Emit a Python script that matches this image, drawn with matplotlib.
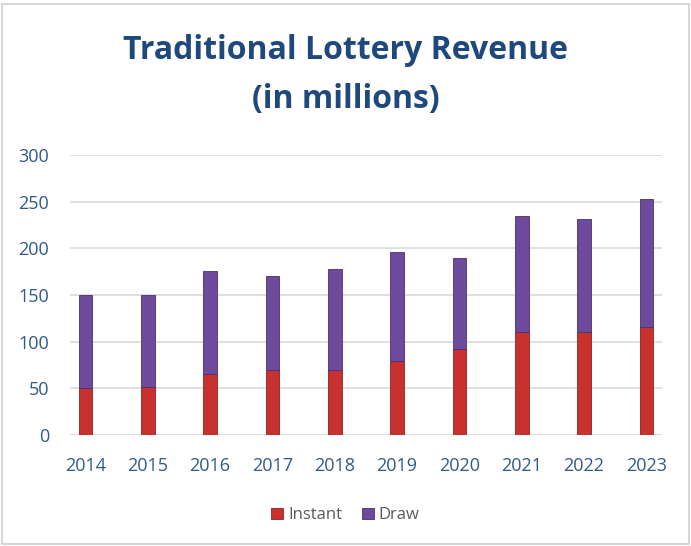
import numpy as np
import matplotlib.pyplot as plt
from matplotlib.patches import Rectangle

years = ["2014", "2015", "2016", "2017", "2018", "2019", "2020", "2021", "2022", "2023"]
instant = [50, 52, 65, 70, 70, 79, 92, 110, 110, 116]
draw = [100, 98, 111, 100, 108, 117, 98, 125, 121, 137]

blue = "#1F497D"
tick_blue = "#2F5A8C"
fig = plt.figure(figsize=(6.91, 5.46), dpi=100)
ax = fig.add_axes([0.101, 0.203, 0.857, 0.513])

x = np.arange(len(years))
w = 0.22
ax.bar(x, instant, w, color="#C9312F", edgecolor="#8E2222", linewidth=0.6, label="Instant", zorder=3)
ax.bar(x, draw, w, bottom=instant, color="#6E4A9C", edgecolor="#4A306E", linewidth=0.6, label="Draw", zorder=3)

ax.set_xlim(-0.25, 9.25)
ax.set_ylim(0, 300)
ax.set_yticks(np.arange(0, 301, 50))
ax.set_xticks(x)
ax.set_xticklabels(years)
ax.grid(axis="y", color="#D9D9D9", linewidth=1.2, zorder=0)
for s in ax.spines.values():
    s.set_visible(False)
ax.tick_params(length=0, labelsize=13, labelcolor=tick_blue)
ax.tick_params(axis="y", pad=15)
ax.tick_params(axis="x", pad=16)
for lab in ax.get_xticklabels() + ax.get_yticklabels():
    lab.set_fontfamily("Open Sans")

fig.text(0.5, 0.908, "Traditional Lottery Revenue", ha="center", va="center",
         fontsize=23, fontweight="bold", color=blue, family="Open Sans")
fig.text(0.5, 0.817, "(in millions)", ha="center", va="center",
         fontsize=23, fontweight="bold", color=blue, family="Open Sans")

leg = fig.legend(loc="center", bbox_to_anchor=(0.5, 0.056), ncol=2, frameon=False,
                 handlelength=0.7, handleheight=0.7, handletextpad=0.3, columnspacing=1.2,
                 prop={"family": "Open Sans", "size": 12})
for t in leg.get_texts():
    t.set_color("#595959")

fig.patches.append(Rectangle((0.003, 0.003), 0.994, 0.99, transform=fig.transFigure,
                             fill=False, edgecolor="#D0D0D0", linewidth=1.2))

fig.savefig("out.png", dpi=100)
